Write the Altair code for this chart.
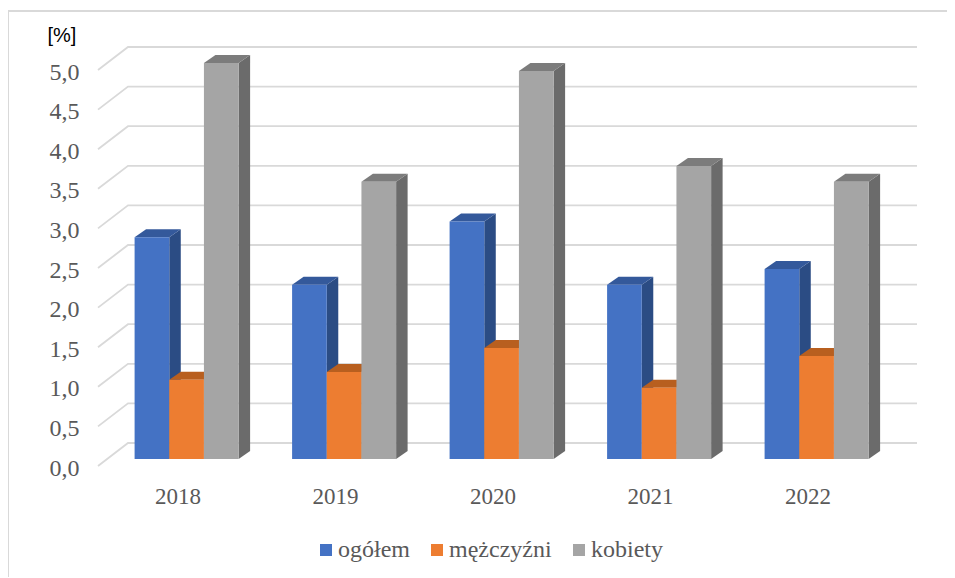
import altair as alt
import pandas as pd

years = [2018, 2019, 2020, 2021, 2022]
series = ["ogółem", "mężczyźni", "kobiety"]
ogolem = [2.8, 2.2, 3.0, 2.2, 2.4]
mezczyzni = [1.0, 1.1, 1.4, 0.9, 1.3]
kobiety = [5.0, 3.5, 4.9, 3.7, 3.5]
ticks = [0.0, 0.5, 1.0, 1.5, 2.0, 2.5, 3.0, 3.5, 4.0, 4.5, 5.0]
front_colors = ["#4472C4", "#ED7D31", "#A5A5A5"]
side_colors = ["#2B4C84", "#9E5320", "#6B6B6B"]
top_colors = ["#34599B", "#B85F1F", "#7C7C7C"]

W, H = 939, 566
LEFT, TOP = 8, 11
PX_X = 157.5            # pixels per year
PX_Y = 79.2             # pixels per value unit
X0 = 177.5 - LEFT       # position of 2018 inside the view
Y0 = 466 - TOP          # position of 0 inside the view


def xu(px):
    return px / PX_X


def yu(px):
    return px / PX_Y


x_scale = alt.Scale(domain=[2018 - X0 / PX_X, 2018 + (W - X0) / PX_X], nice=False, zero=False)
y_scale = alt.Scale(domain=[-(H - Y0) / PX_Y, Y0 / PX_Y], nice=False, zero=False)

bar_w = 34.67
bar_shift = 134.6 + bar_w * 1.5 - 177.5   # bars stand further back than the labels
base = yu(7)
dep_x, dep_y = xu(11.5), yu(8)

X = alt.X("x:Q", scale=x_scale, title=None)
Y = alt.Y("y:Q", scale=y_scale, title="[%]")

# real axes, pulled into the view (first layer, so the layered chart keeps them)
axes_data = pd.DataFrame({"x": years, "y": [0.0] * len(years)})
axes = alt.Chart(axes_data).mark_point(opacity=0).encode(
    x=alt.X(
        "x:Q",
        scale=x_scale,
        title=None,
        axis=alt.Axis(
            orient="bottom",
            values=years,
            format="d",
            domain=False,
            ticks=False,
            grid=False,
            offset=-(H - (485 - TOP)),
            labelFont="Liberation Serif",
            labelFontSize=23,
            labelColor="#595959",
            labelPadding=0,
            labelFlush=False,
            labelOverlap=False,
        ),
    ),
    y=alt.Y(
        "y:Q",
        scale=y_scale,
        title="[%]",
        axis=alt.Axis(
            orient="left",
            values=ticks,
            labelExpr="replace(format(datum.value, '.1f'), '.', ',')",
            domain=False,
            ticks=False,
            grid=False,
            offset=-(79 - LEFT),
            labelFont="Liberation Serif",
            labelFontSize=24,
            labelColor="#595959",
            labelPadding=0,
            labelOffset=2,
            labelOverlap=False,
            titleAngle=0,
            titleFont="Liberation Sans",
            titleFontSize=20,
            titleFontWeight="normal",
            titleColor="#000000",
            titleAlign="left",
            titleBaseline="middle",
            titleX=-32,
            titleY=24,
        ),
    ),
)
layers = [axes]

# floor/wall gridlines
grid_rows = []
for t in ticks:
    for k, (gx, gy) in enumerate([(-79.5, 0), (-49.5, 23), (739.5, 23)]):
        grid_rows.append({"t": t, "k": k, "x": 2018 + xu(gx), "y": t + yu(gy)})
grid = alt.Chart(pd.DataFrame(grid_rows)).mark_line(color="#D9D9D9", strokeWidth=1.8).encode(
    x=X, y=Y, detail="t:Q", order="k:Q"
)
layers.append(grid)

vals = [ogolem, mezczyzni, kobiety]
color_scale = alt.Scale(domain=series, range=front_colors)

for s, (name, values) in enumerate(zip(series, vals)):
    side, top, front = [], [], []
    for yr, v in zip(years, values):
        xl = yr + xu(bar_shift + s * bar_w - bar_w * 1.5)
        xr = xl + xu(bar_w)
        vt = v + base
        front.append({"x": xl, "x2": xr, "y": vt, "y2": base, "serie": name})
        side += [
            {"g": yr, "x": xr, "y": vt, "y2": base},
            {"g": yr, "x": xr + dep_x, "y": vt + dep_y, "y2": base + dep_y},
        ]
        top += [
            {"g": yr, "x": xl, "y": vt, "y2": vt},
            {"g": yr, "x": xl + dep_x, "y": vt + dep_y, "y2": vt},
            {"g": yr, "x": xr, "y": vt + dep_y, "y2": vt},
            {"g": yr, "x": xr + dep_x, "y": vt + dep_y, "y2": vt + dep_y},
        ]
    layers.append(
        alt.Chart(pd.DataFrame(side)).mark_area(color=side_colors[s]).encode(
            x=X, y=Y, y2="y2:Q", detail="g:N"
        )
    )
    layers.append(
        alt.Chart(pd.DataFrame(top)).mark_area(color=top_colors[s]).encode(
            x=X, y=Y, y2="y2:Q", detail="g:N"
        )
    )
    layers.append(
        alt.Chart(pd.DataFrame(front)).mark_rect().encode(
            x=X,
            x2="x2:Q",
            y=Y,
            y2="y2:Q",
            color=alt.Color(
                "serie:N",
                scale=color_scale,
                sort=series,
                legend=alt.Legend(
                    title=None,
                    orient="none",
                    direction="horizontal",
                    legendX=314 - LEFT,
                    legendY=538 - TOP,
                    symbolType="square",
                    symbolSize=144,
                    symbolStrokeWidth=0,
                    labelFont="Liberation Serif",
                    labelFontSize=24,
                    labelColor="#595959",
                    labelOffset=0,
                    columnPadding=15,
                    padding=0,
                    values=series,
                ),
            ),
        )
    )

# chart frame: only its top and left edges are in the picture
frame_left = alt.Chart(pd.DataFrame({"a": [0]})).mark_rule(color="#D9D9D9", strokeWidth=2).encode(
    x=alt.value(0), y=alt.value(0), y2=alt.value(H)
)
frame_top = alt.Chart(pd.DataFrame({"a": [0]})).mark_rule(color="#D9D9D9", strokeWidth=2).encode(
    y=alt.value(0), x=alt.value(0), x2=alt.value(W)
)
layers += [frame_left, frame_top]

chart = (
    alt.layer(*layers)
    .resolve_scale(color="shared")
    .properties(
        width=W,
        height=H,
        padding={"left": 0, "top": TOP - 8, "right": 0, "bottom": 0},
        autosize=alt.AutoSizeParams(type="none"),
        background="#FFFFFF",
    )
    .configure_view(stroke=None)
)

chart.save("out.html", embed_options={"renderer": "svg", "actions": False})
